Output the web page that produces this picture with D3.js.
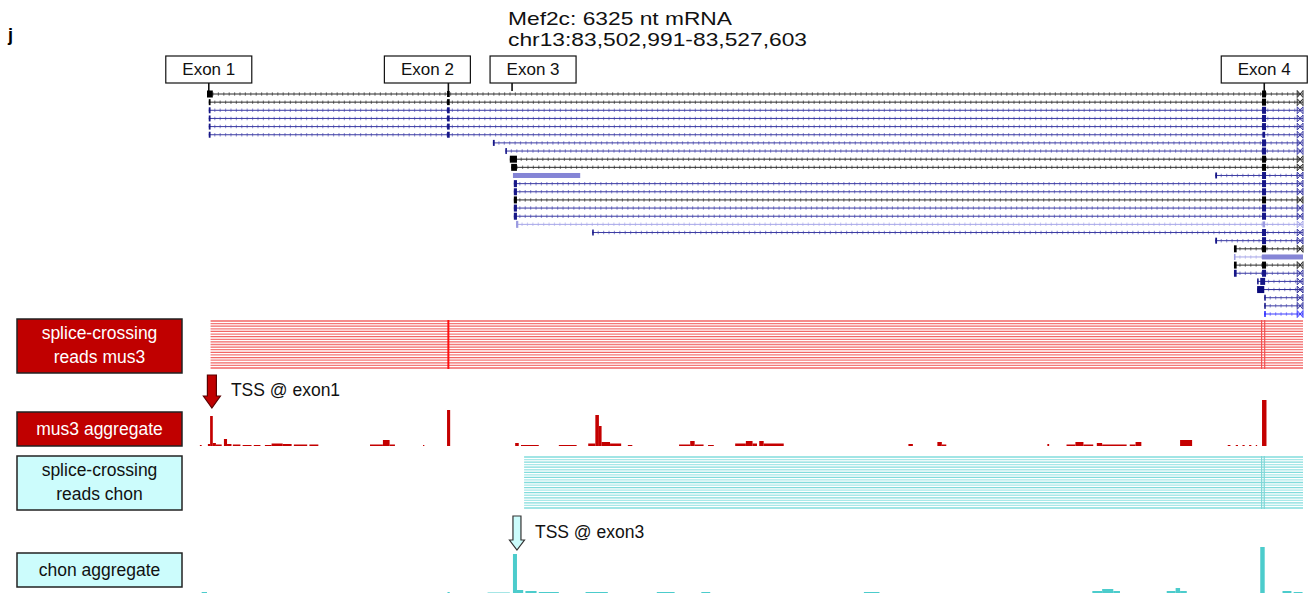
<!DOCTYPE html>
<html><head><meta charset="utf-8">
<script src="https://cdn.jsdelivr.net/npm/d3@7"></script>
<style>
body{margin:0;background:#fff;overflow:hidden;}
svg{display:block;font-family:"Liberation Sans",Arial,sans-serif;}
</style></head><body>
<svg id="c" width="1315" height="593"></svg>
<script>
// ================= DATA (positions in kb from chr13:83,502,991) =================
const panelLetter = "j";
const titleLines = ["Mef2c: 6325 nt mRNA", "chr13:83,502,991-83,527,603"];
const regionKb = [0, 24.61];

const exonNames = ["Exon 1", "Exon 2", "Exon 3", "Exon 4"];
const exonPosKb = [0.04, 5.42, 6.85, 23.74];

// transcript source category per row
const txSource = [
  "curated","curated","predicted","predicted","predicted","predicted",
  "predicted","predicted","curated","curated","predicted","predicted",
  "predicted","curated","predicted","predicted","partial","predicted",
  "predicted","curated","partial","curated","predicted","predicted",
  "dark","predicted","predicted","bright"
];
// intron segments per row
const txIntrons = [
  [[0.00,24.61]],[[0.04,24.61]],[[0.04,24.61]],[[0.04,24.61]],[[0.04,24.61]],[[0.04,24.61]],
  [[6.42,24.61]],[[6.70,24.61]],[[6.80,24.61]],[[6.83,24.61]],[[22.64,24.61]],[[6.89,24.61]],
  [[6.89,24.61]],[[6.89,24.61]],[[6.89,24.61]],[[6.89,24.61]],[[6.94,24.61]],[[8.65,24.61]],
  [[22.64,24.61]],[[23.06,24.61]],[[23.06,23.69]],[[23.06,24.61]],[[23.06,24.61]],[[23.58,24.61]],
  [[23.58,24.61]],[[23.74,24.61]],[[23.74,24.61]],[[23.74,24.61]]
];
// exon blocks per row: [start, end, kind]
const txExons = [
  [[0.00,0.13,"cds"],[5.39,5.45,"mark"],[23.69,23.78,"cds"],[24.48,24.61,"end"]],
  [[0.04,0.08,"mark"],[5.39,5.45,"mark"],[23.69,23.78,"cds"],[24.48,24.61,"end"]],
  [[0.04,0.08,"mark"],[5.39,5.45,"mark"],[23.69,23.78,"cds"],[24.48,24.61,"end"]],
  [[0.04,0.08,"mark"],[5.39,5.45,"mark"],[23.69,23.78,"cds"],[24.48,24.61,"end"]],
  [[0.04,0.08,"mark"],[5.39,5.45,"mark"],[23.69,23.78,"cds"],[24.48,24.61,"end"]],
  [[0.04,0.08,"mark"],[5.39,5.45,"mark"],[23.70,23.76,"mark"],[24.48,24.61,"end"]],
  [[6.42,6.46,"mark"],[23.69,23.78,"cds"],[24.48,24.61,"end"]],
  [[6.70,6.73,"mark"],[23.69,23.78,"cds"],[24.48,24.61,"end"]],
  [[6.80,6.96,"cds"],[23.69,23.78,"cds"],[24.48,24.61,"end"]],
  [[6.83,6.96,"cds"],[23.69,23.78,"cds"],[24.48,24.61,"end"]],
  [[6.87,8.38,"nc"],[22.64,22.68,"mark"],[23.69,23.78,"cds"],[24.48,24.61,"end"]],
  [[6.89,6.96,"cds"],[23.69,23.78,"cds"],[24.48,24.61,"end"]],
  [[6.89,6.96,"cds"],[23.69,23.78,"cds"],[24.48,24.61,"end"]],
  [[6.89,6.96,"cds"],[23.69,23.78,"cds"],[24.48,24.61,"end"]],
  [[6.89,6.96,"cds"],[23.69,23.78,"cds"],[24.48,24.61,"end"]],
  [[6.89,6.96,"cds"],[23.69,23.78,"cds"],[24.48,24.61,"end"]],
  [[6.94,6.99,"cds"],[23.70,23.76,"mark"],[24.48,24.61,"end"]],
  [[8.65,8.68,"mark"],[23.69,23.78,"cds"],[24.48,24.61,"end"]],
  [[22.64,22.68,"mark"],[23.69,23.78,"cds"],[24.48,24.61,"end"]],
  [[23.06,23.12,"cds"],[23.69,23.78,"cds"],[24.48,24.61,"end"]],
  [[23.06,23.09,"mark"],[23.69,24.61,"nc"]],
  [[23.06,23.12,"cds"],[23.69,23.78,"cds"],[24.48,24.61,"end"]],
  [[23.06,23.12,"cds"],[23.69,23.78,"cds"],[24.48,24.61,"end"]],
  [[23.58,23.60,"mark"],[23.65,23.76,"cds"],[24.48,24.61,"end"]],
  [[23.58,23.74,"cds"],[24.48,24.61,"end"]],
  [[23.74,23.77,"mark"],[24.48,24.61,"end"]],
  [[23.74,23.77,"mark"],[24.48,24.61,"end"]],
  [[23.74,23.77,"mark"],[24.48,24.61,"end"]]
];

// splice-crossing reads (start, end in kb)
const musReadStart = [0.08,0.08,0.08,0.08,0.08,0.08,0.08,0.08,0.08,0.08,0.08,0.08,0.08,0.08,0.08,0.08,0.08,0.08,0.08];
const musReadEnd   = [24.61,24.61,24.61,24.61,24.61,24.61,24.61,24.61,24.61,24.61,24.61,24.61,24.61,24.61,24.61,24.61,24.61,24.61,24.61];
const musJunctions = [5.42, 23.68, 23.75];
const chonReadStart = [7.12,7.12,7.12,7.12,7.12,7.12,7.12,7.12,7.12,7.12,7.12,7.12,7.12,7.12,7.12,7.12,7.12,7.12,7.12,7.12,7.12];
const chonReadEnd   = [24.61,24.61,24.61,24.61,24.61,24.61,24.61,24.61,24.61,24.61,24.61,24.61,24.61,24.61,24.61,24.61,24.61,24.61,24.61,24.61,24.61];
const chonJunctions = [23.68, 23.74];

// aggregate coverage: [start kb, end kb, depth]
const musCoverage = [
  [-0.16,-0.12,1],[0.02,0.07,2],[0.07,0.13,30],[0.13,0.20,3],[0.20,0.33,1.5],[0.38,0.45,7],
  [0.45,0.55,2],[0.58,0.75,1.5],[0.80,1.00,1],[1.05,1.20,1],[1.30,1.45,1],[1.45,1.70,2.5],
  [1.70,1.90,2],[1.95,2.25,1.5],[2.30,2.50,1.5],[3.66,3.95,1.5],[3.95,4.10,6],[4.10,4.22,1.5],
  [4.85,4.88,1],[5.39,5.46,36],[6.92,7.00,3],[7.05,7.45,1],[7.90,8.30,1],[8.56,8.72,2.5],
  [8.72,8.80,31],[8.80,8.86,20],[8.86,9.05,4],[9.05,9.30,2.5],[9.45,9.55,1],[10.60,10.85,1.5],
  [10.85,10.95,5],[10.95,11.15,1.5],[11.25,11.38,1],[11.86,12.10,2.5],[12.10,12.25,5],[12.25,12.35,2.5],
  [12.40,12.50,5],[12.50,12.95,2.5],[15.75,15.85,2],[16.40,16.50,4],[16.50,16.60,1.5],[18.87,18.91,2],
  [19.30,19.50,1.5],[19.50,19.68,4],[19.68,19.90,1.5],[19.98,20.10,3],[20.10,20.65,1.5],[20.72,20.85,1.5],
  [20.85,20.98,4],[21.85,22.12,6],[22.92,22.98,1],[23.10,23.15,1],[23.25,23.30,1],[23.40,23.45,1],
  [23.55,23.58,1],[23.69,23.79,46]
];
const chonCoverage = [
  [-0.12,0.00,2],[5.40,5.45,2],[6.30,6.80,1.5],[6.87,6.96,40],[6.96,7.10,4],[7.15,7.40,3],
  [7.45,7.90,2],[8.50,9.00,2],[9.30,9.80,1],[10.10,10.50,2],[10.50,11.00,1],[11.10,11.30,2],
  [12.70,12.95,1],[13.50,13.60,1],[14.75,15.10,2],[18.05,18.20,1],[19.88,20.10,3],[20.10,20.35,5],
  [20.35,20.50,3],[21.55,21.75,3],[21.75,21.85,6],[21.85,22.00,3],[23.65,23.75,47],[24.15,24.35,3],
  [24.40,24.60,2]
];

const tssKb = [0.11, 6.96];
const tssLabels = ["TSS @ exon1", "TSS @ exon3"];
const trackLabels = [["splice-crossing","reads mus3"],["mus3 aggregate"],["splice-crossing","reads chon"],["chon aggregate"]];

// ================= LAYOUT / STYLE =================
const svg = d3.select("#c");
const x = d3.scaleLinear().domain(regionKb).range([207, 1303]);
const rowY = d3.scaleLinear().domain([0, 27]).range([94, 314]);

const lineColor = d3.scaleOrdinal()
  .domain(["curated","predicted","partial","dark","bright"])
  .range(["#2a2a2a","#3b3ba2","#a6a6e8","#2a2a96","#3a3aff"]);
const hatchColor = d3.scaleOrdinal()
  .domain(["curated","predicted","partial","dark","bright"])
  .range(["#8a8a8a","#9a9ad6","#cfcff4","#9a9ad6","#9a9aff"]);
const exonColor = d3.scaleOrdinal()
  .domain(["curated","predicted","partial","dark","bright"])
  .range(["#000000","#161687","#9a9ae0","#0a0a7a","#2626ff"]);

// panel letter + title
svg.append("text").attr("x", 8).attr("y", 41).attr("font-size", 18).attr("font-weight", "bold").text(panelLetter);
const titleWidths = [224, 299];
svg.append("g").selectAll("text").data(titleLines).join("text")
  .attr("x", 508).attr("y", (d, i) => 24.5 + i * 21.5)
  .attr("font-size", 18.5).attr("fill", "#111")
  .attr("textLength", (d, i) => titleWidths[i]).attr("lengthAdjust", "spacingAndGlyphs")
  .text(d => d);

// exon label boxes
const boxOffset = [-43, -64, -22, -43];
const gEx = svg.append("g");
exonNames.forEach((name, i) => {
  const cx = x(exonPosKb[i]);
  const bx = cx + boxOffset[i];
  gEx.append("rect").attr("x", bx).attr("y", 56).attr("width", 86).attr("height", 27)
    .attr("fill", "#fff").attr("stroke", "#111").attr("stroke-width", 1.2);
  gEx.append("text").attr("x", bx + 43).attr("y", 75).attr("text-anchor", "middle")
    .attr("font-size", 17).attr("fill", "#111").text(name);
  gEx.append("line").attr("x1", cx).attr("x2", cx).attr("y1", 83).attr("y2", 91)
    .attr("stroke", "#111").attr("stroke-width", 1.6);
});

// transcripts
const gTx = svg.append("g");
txSource.forEach((src, i) => {
  const y = rowY(i);
  txIntrons[i].forEach(([a, b]) => {
    gTx.append("line").attr("x1", x(a)).attr("x2", x(b)).attr("y1", y).attr("y2", y)
      .attr("stroke", hatchColor(src)).attr("stroke-width", 3.5).attr("stroke-dasharray", "1.2 4.2");
    gTx.append("line").attr("x1", x(a)).attr("x2", x(b)).attr("y1", y).attr("y2", y)
      .attr("stroke", lineColor(src)).attr("stroke-width", 1);
  });
  txExons[i].forEach(([a, b, kind]) => {
    const x0 = x(a), x1 = x(b);
    if (kind === "end") {
      gTx.append("path")
        .attr("d", `M${x0},${y-3.5}L${x1},${y+3.5}L${x1},${y-3.5}L${x0},${y+3.5}Z`)
        .attr("fill", "none").attr("stroke", lineColor(src)).attr("stroke-width", 1);
    } else if (kind === "nc") {
      gTx.append("rect").attr("x", x0).attr("y", y - 2.5).attr("width", x1 - x0).attr("height", 5)
        .attr("fill", "#8585d6");
    } else if (kind === "cds") {
      gTx.append("rect").attr("x", x0).attr("y", y - 3.5).attr("width", Math.max(2, x1 - x0)).attr("height", 7)
        .attr("fill", exonColor(src));
    } else {
      gTx.append("rect").attr("x", x0).attr("y", y - 3).attr("width", Math.max(1.5, x1 - x0)).attr("height", 6)
        .attr("fill", exonColor(src));
    }
  });
});

// track label boxes
const labelBoxes = [
  {y: 319, h: 54, fill: "#c00000", text: "#fff"},
  {y: 412, h: 34, fill: "#c00000", text: "#fff"},
  {y: 456, h: 54, fill: "#ccfcfc", text: "#111"},
  {y: 553, h: 34, fill: "#ccfcfc", text: "#111"}
];
labelBoxes.forEach((b, i) => {
  svg.append("rect").attr("x", 17).attr("y", b.y).attr("width", 165).attr("height", b.h)
    .attr("fill", b.fill).attr("stroke", "#222").attr("stroke-width", 1.5);
  const lines = trackLabels[i];
  lines.forEach((t, j) => {
    const ty = lines.length === 2 ? b.y + 20 + j * 24 : b.y + 23;
    svg.append("text").attr("x", 99.5).attr("y", ty).attr("text-anchor", "middle")
      .attr("font-size", 17.5).attr("fill", b.text).text(t);
  });
});

// splice-crossing reads
function drawReads(starts, ends, junctions, top, bottom, color, color2, jColor) {
  const g = svg.append("g");
  const yr = d3.scaleLinear().domain([0, starts.length - 1]).range([top, bottom]);
  starts.forEach((s, i) => {
    g.append("line").attr("x1", x(s)).attr("x2", x(ends[i])).attr("y1", yr(i)).attr("y2", yr(i))
      .attr("stroke", i % 2 ? color2 : color).attr("stroke-width", 1.3);
  });
  junctions.forEach((j, k) => {
    g.append("line").attr("x1", x(j)).attr("x2", x(j)).attr("y1", top - 1).attr("y2", bottom + 1)
      .attr("stroke", jColor[k]).attr("stroke-width", k === 0 && junctions.length === 3 ? 2 : 1.2);
  });
}
drawReads(musReadStart, musReadEnd, musJunctions, 321, 368, "#f26666", "#f47878", ["#ff1010", "#f25050", "#f25050"]);
drawReads(chonReadStart, chonReadEnd, chonJunctions, 457, 508, "#82dcdc", "#a8e8e8", ["#7fd6d6", "#7fd6d6"]);

// aggregate coverage
function drawCoverage(data, baseline, color) {
  const yv = d3.scaleLinear().domain([0, 50]).range([baseline, baseline - 50]);
  svg.append("g").selectAll("rect").data(data).join("rect")
    .attr("x", d => x(d[0])).attr("width", d => Math.max(1, x(d[1]) - x(d[0])))
    .attr("y", d => yv(d[2])).attr("height", d => baseline - yv(d[2]))
    .attr("fill", color);
}
drawCoverage(musCoverage, 446, "#c40000");
drawCoverage(chonCoverage, 594, "#4ccccc");

// TSS arrows
function arrow(cx, top, bottom, shaftW, headW, headH, fill, stroke) {
  const s = shaftW / 2, h = headW / 2, hy = bottom - headH;
  svg.append("path")
    .attr("d", `M${cx-s},${top}L${cx+s},${top}L${cx+s},${hy}L${cx+h},${hy}L${cx},${bottom}L${cx-h},${hy}L${cx-s},${hy}Z`)
    .attr("fill", fill).attr("stroke", stroke).attr("stroke-width", 1.2);
}
arrow(x(tssKb[0]), 375, 408, 9, 17, 12, "#c00000", "#5a0000");
arrow(x(tssKb[1]), 516, 550, 8, 15, 10, "#ccfcfc", "#333");
svg.append("text").attr("x", x(tssKb[0]) + 19).attr("y", 396).attr("font-size", 17.5).attr("fill", "#111").text(tssLabels[0]);
svg.append("text").attr("x", x(tssKb[1]) + 18).attr("y", 538).attr("font-size", 17.5).attr("fill", "#111").text(tssLabels[1]);
</script>
</body></html>
